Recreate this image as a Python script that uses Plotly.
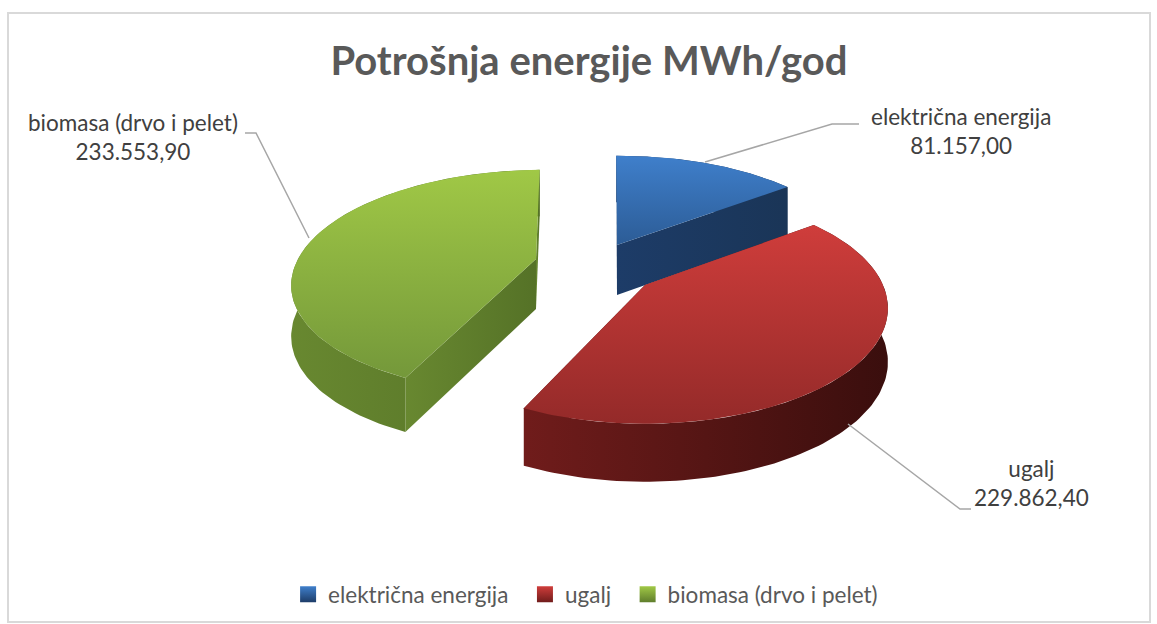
import numpy as np
import plotly.graph_objects as go

categories = ["električna energija", "ugalj", "biomasa (drvo i pelet)"]
values = [81157.00, 229862.40, 233553.90]
value_labels = ["81.157,00", "229.862,40", "233.553,90"]
title_text = "Potrošnja energije MWh/god"

# slice styling and placement (page pixels on a 1157x624 axis)
apex = [(617, 245), (645, 285), (536, 259)]
shear = [-0.03, 0.0, -0.08]
tilt = [107.0, 111.0, 107.0]
depth = [50.0, 53.0, 50.0]
top_colors = [("#3f7fcb", "#2c5c96"), ("#cf3d3b", "#942a29"), ("#a0c846", "#74983a")]
wall_colors = [("#1d3c68", "#1a3557"), ("#701c1b", "#3a0e0d"), ("#688830", "#557227")]
swatch_dark = ["#1d3c68", "#701c1b", "#5f7d2c"]
label_pos = [(961, 131), (1031, 483), (133, 137)]
leaders = [([859, 832, 705], [124, 124, 162]),
           ([971, 960, 848], [509, 509, 424]),
           ([245, 256, 309], [133, 133, 238])]

RX, PERSP = 238.0, 5.0
START_DEG = -1.0
TEXT = "#595959"
FONT = "Lato"
NB = "\u00a0" * 2


def project(theta, r, i, z=0.0):
    """Perspective projection of a disc point (theta clockwise from far side)."""
    c, k, ry = apex[i], shear[i], tilt[i]
    X, Yf = r * np.sin(theta), r * np.cos(theta)
    s = PERSP / (PERSP + Yf)
    dy = -ry * Yf * s
    return c[0] + RX * X * s + k * dy, c[1] + dy + z * s ** 0.4


fig = go.Figure()


def poly(x, y, colors, kind):
    fig.add_trace(go.Scatter(
        x=list(x), y=list(y), mode="lines", fill="toself", line=dict(width=0),
        fillgradient=dict(type=kind, colorscale=[[0, colors[0]], [1, colors[1]]]),
        showlegend=False, hoverinfo="skip"))


total = sum(values)
edges = np.radians(START_DEG + np.concatenate([[0], np.cumsum(values)]) / total * 360)

for i in [0, 2, 1]:
    c, d = apex[i], depth[i]
    t = np.linspace(edges[i], edges[i + 1], 120)
    ax, ay = project(t, 1, i)
    bx, by = project(t, 1, i, d)
    for e in (edges[i], edges[i + 1]):
        ex, ey = project(e, 1, i)
        fx, fy = project(e, 1, i, d)
        cx2, cy2 = project(0, 0, i, d)
        poly([c[0], ex, fx, cx2, c[0]], [c[1], ey, fy, cy2, c[1]], wall_colors[i], "horizontal")
    poly(np.r_[ax, bx[::-1], ax[0]], np.r_[ay, by[::-1], ay[0]], wall_colors[i], "horizontal")
    # the y axis is reversed, so the gradient stops run bottom-to-top on the page
    poly(np.r_[c[0], ax, c[0]], np.r_[c[1], ay, c[1]], top_colors[i][::-1], "vertical")

for j, (name, cols) in enumerate(zip(categories, top_colors)):
    fig.add_trace(go.Scatter(
        x=[None], y=[None], mode="markers", name=name + (NB if j < 2 else ""),
        marker=dict(symbol="square", size=16, color=cols[0],
                    gradient=dict(type="vertical", color=swatch_dark[j]),
                    line=dict(width=0))))

for lx, ly in leaders:
    fig.add_trace(go.Scatter(x=lx, y=ly, mode="lines", line=dict(color="#a6a6a6", width=1.5),
                             showlegend=False, hoverinfo="skip"))

for name, val, pos in zip(categories, value_labels, label_pos):
    fig.add_annotation(x=pos[0], y=pos[1], text=f"{name}<br>{val}", showarrow=False,
                       xanchor="center", yanchor="middle", align="center",
                       font=dict(family=FONT, size=22.5, color="#404040"))

fig.add_shape(type="rect", xref="x", yref="y", x0=8, y0=13, x1=1150, y1=622,
              line=dict(color="#d9d9d9", width=2), fillcolor="rgba(0,0,0,0)", layer="below")

fig.update_layout(
    width=1157, height=624, margin=dict(l=0, r=0, t=0, b=0),
    paper_bgcolor="white", plot_bgcolor="white",
    title=dict(text=title_text, x=0.509, xanchor="center", y=0.903, yanchor="middle",
               font=dict(family=FONT, size=40, color=TEXT, weight="bold")),
    xaxis=dict(range=[0, 1157], visible=False, fixedrange=True),
    yaxis=dict(range=[624, 0], visible=False, fixedrange=True),
    legend=dict(orientation="h", x=0.249, xanchor="left", y=0.047, yanchor="middle",
                font=dict(family=FONT, size=22.5, color=TEXT), itemsizing="trace",
                bgcolor="rgba(0,0,0,0)"),
)

fig.write_html("out.html", config=dict(displayModeBar=False),
               post_script="document.body.style.margin='0';document.documentElement.style.overflow='hidden';")
